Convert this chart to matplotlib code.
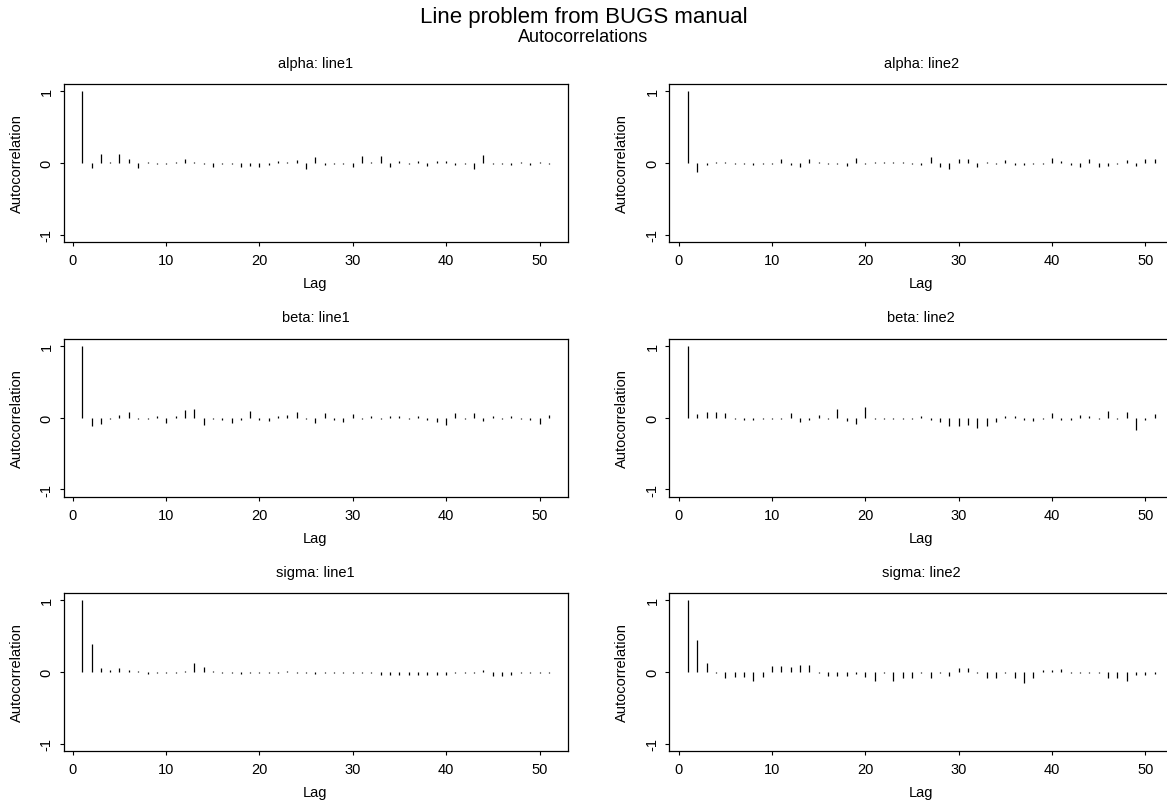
import numpy as np
import matplotlib
matplotlib.use("Agg")
import matplotlib.pyplot as plt

plt.rcParams['font.family'] = ['Liberation Sans', 'DejaVu Sans']

lags = np.arange(1, 52)

alpha_line1 = [1, -0.07, 0.13, 0.02, 0.12, 0.06, -0.07, 0.02, -0.02, -0.02,
               0.02, 0.05, 0.02, -0.02, -0.05, -0.02, -0.02, -0.06, -0.04, -0.05,
               -0.03, 0.03, 0.02, 0.04, -0.09, 0.09, -0.03, -0.02, -0.02, -0.05,
               0.10, 0.02, 0.10, -0.05, 0.03, -0.02, 0.03, -0.04, 0.03, 0.03,
               -0.03, -0.02, -0.09, 0.11, -0.02, -0.02, -0.03, 0.02, -0.03, 0.02,
               -0.02]
alpha_line2 = [1, -0.13, -0.03, 0.02, 0.02, -0.02, -0.02, -0.03, -0.02, -0.02,
               0.05, -0.03, -0.05, 0.05, 0.02, -0.02, -0.02, -0.04, 0.07, -0.02,
               0.02, 0.02, 0.02, 0.02, -0.02, -0.03, 0.08, -0.06, -0.08, 0.06,
               0.06, -0.05, 0.02, -0.02, 0.04, -0.03, -0.03, -0.02, -0.02, 0.07,
               0.03, -0.03, -0.06, 0.05, -0.05, -0.04, -0.02, 0.04, -0.04, 0.05,
               0.05]
beta_line1 = [1, -0.12, -0.09, -0.02, 0.04, 0.07, -0.02, -0.02, 0.02, -0.08,
              0.02, 0.10, 0.12, -0.10, -0.02, -0.03, -0.08, -0.04, 0.09, -0.04,
              -0.05, 0.02, 0.03, 0.08, -0.02, -0.07, 0.06, -0.03, -0.06, 0.05,
              -0.02, 0.02, -0.02, 0.02, 0.02, -0.02, 0.02, -0.03, -0.06, -0.10,
              0.06, -0.02, 0.06, -0.05, 0.02, -0.02, 0.02, -0.02, -0.03, -0.09,
              0.04]
beta_line2 = [1, 0.05, 0.07, 0.08, 0.06, -0.02, -0.04, -0.03, -0.02, -0.02,
              -0.02, 0.06, -0.06, -0.03, 0.03, -0.02, 0.12, -0.05, -0.09, 0.14,
              -0.02, -0.02, -0.02, -0.02, -0.02, 0.02, -0.04, -0.06, -0.12, -0.12,
              -0.10, -0.14, -0.12, -0.06, 0.02, 0.02, -0.04, -0.05, -0.02, 0.06,
              -0.04, -0.04, 0.03, 0.02, -0.02, 0.09, -0.02, 0.08, -0.18, -0.03,
              0.05]
sigma_line1 = [1, 0.39, 0.06, 0.03, 0.05, 0.03, 0.02, -0.03, -0.02, -0.02,
               -0.02, 0.02, 0.12, 0.07, 0.02, -0.02, -0.02, -0.03, -0.02, -0.02,
               -0.02, -0.02, 0.02, -0.02, -0.02, -0.03, -0.02, -0.02, -0.02, -0.02,
               -0.02, -0.02, -0.04, -0.04, -0.04, -0.04, -0.04, -0.04, -0.04, -0.04,
               -0.02, -0.02, -0.02, 0.03, -0.05, -0.05, -0.04, -0.02, -0.02, -0.02,
               -0.02]
sigma_line2 = [1, 0.44, 0.13, -0.02, -0.08, -0.07, -0.07, -0.12, -0.07, 0.09,
               0.09, 0.07, 0.10, 0.10, -0.02, -0.06, -0.06, -0.06, -0.03, -0.07,
               -0.12, -0.02, -0.12, -0.09, -0.09, -0.02, -0.08, -0.02, -0.06, 0.05,
               0.05, -0.02, -0.09, -0.09, -0.02, -0.08, -0.16, -0.09, 0.03, 0.03,
               0.04, -0.02, -0.02, -0.02, -0.02, -0.08, -0.08, -0.13, -0.04, -0.04,
               -0.03]

titles = ["alpha: line1", "alpha: line2", "beta: line1", "beta: line2",
          "sigma: line1", "sigma: line2"]
series = [alpha_line1, alpha_line2, beta_line1, beta_line2, sigma_line1, sigma_line2]
xticks = [0, 10, 20, 30, 40, 50]
yticks = [-1, 0, 1]

W, H = 1167, 803
fig = plt.figure(figsize=(W / 100, H / 100), dpi=100)

ax_w, ax_h = 504, 158
lefts = [63.5, 669.3]
bottoms = [243.0, 497.5, 752.0]  # bottom edges in px from top

fig.text(0.5, 1 - 17 / H, "Line problem from BUGS manual", ha='center', va='center', fontsize=16)
fig.text(0.5, 1 - 37 / H, "Autocorrelations", ha='center', va='center', fontsize=13)

for i, (vals, title) in enumerate(zip(series, titles)):
    r, c = divmod(i, 2)
    ax = fig.add_axes([lefts[c] / W, 1 - bottoms[r] / H, ax_w / W, ax_h / H])
    ax.vlines(lags, 0, vals, colors='black', linewidth=0.9)
    ax.set_xlim(-1, 53)
    ax.set_ylim(-1.1, 1.1)
    ax.set_xticks(xticks)
    ax.set_yticks(yticks)
    ax.set_yticklabels([str(t) for t in yticks], rotation=90, va='center')
    ax.tick_params(axis='both', direction='out', length=3, width=0.8, labelsize=10.5)
    ax.tick_params(axis='x', pad=5)
    ax.tick_params(axis='y', pad=4)
    for s in ax.spines.values():
        s.set_linewidth(0.9)
    ax.text(0.5, 1 + 21 / ax_h, title, transform=ax.transAxes, ha='center', va='center', fontsize=10.5)
    ax.text(0.5, -41 / ax_h, "Lag", transform=ax.transAxes, ha='center', va='center', fontsize=10.5)
    ax.text(-47 / ax_w, 0.5, "Autocorrelation", transform=ax.transAxes, rotation=90,
            ha='center', va='center', fontsize=10.5)

fig.savefig("out.png", dpi=100)
